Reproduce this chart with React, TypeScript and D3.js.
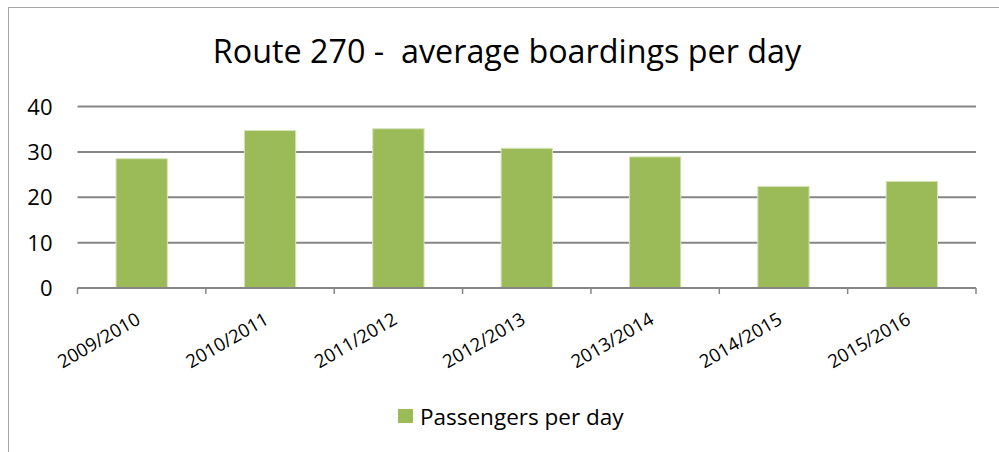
import { useEffect, useRef } from "react";
import * as d3 from "d3";

const seasons = ["2009/2010", "2010/2011", "2011/2012", "2012/2013", "2013/2014", "2014/2015", "2015/2016"];
const passengersPerDay = [28.5, 34.7, 35.1, 30.8, 28.9, 22.4, 23.5];
const yTicks = [0, 10, 20, 30, 40];

const W = 999;
const H = 452;
const FONT = "'Open Sans', sans-serif";

export default function App() {
  const svgRef = useRef<SVGSVGElement>(null);

  useEffect(() => {
    if (!svgRef.current) return;
    const svg = d3.select(svgRef.current);
    svg.selectAll("*").remove();

    const m = { left: 77.5, right: 976, top: 106.5, bottom: 288 };

    // outer frame (cut off on right and bottom like the source)
    svg.append("rect")
      .attr("x", 8.5).attr("y", 7.5)
      .attr("width", W + 20).attr("height", H + 20)
      .attr("fill", "#fff").attr("stroke", "#a6a6a6").attr("stroke-width", 1);

    const x = d3.scaleBand().domain(seasons).range([m.left, m.right]).paddingInner(0.6).paddingOuter(0.3);
    const xOuter = d3.scaleBand().domain(seasons).range([m.left, m.right]);
    const y = d3.scaleLinear().domain([0, 40]).range([m.bottom, m.top]);

    // title
    svg.append("text")
      .attr("x", 507).attr("y", 63)
      .attr("text-anchor", "middle")
      .attr("font-family", FONT).attr("font-size", 32.3)
      .attr("fill", "#000")
      .style("white-space", "pre")
      .text("Route 270 -  average boardings per day");

    // gridlines
    svg.append("g").selectAll("line")
      .data(yTicks.filter((t) => t > 0))
      .enter().append("line")
      .attr("x1", m.left).attr("x2", m.right)
      .attr("y1", (d) => y(d)).attr("y2", (d) => y(d))
      .attr("stroke", "#868686").attr("stroke-width", 2);

    // y labels
    svg.append("g").selectAll("text")
      .data(yTicks)
      .enter().append("text")
      .attr("x", 52.5).attr("y", (d) => y(d) + 8)
      .attr("text-anchor", "end")
      .attr("font-family", FONT).attr("font-size", 22)
      .attr("fill", "#000")
      .text((d) => d);

    // bars
    svg.append("g").selectAll("rect")
      .data(passengersPerDay)
      .enter().append("rect")
      .attr("x", (_d, i) => x(seasons[i])!)
      .attr("width", x.bandwidth())
      .attr("y", (d) => y(d))
      .attr("height", (d) => y(0) - y(d))
      .attr("fill", "#9bbb59")
      .attr("stroke", "#d7e4bd").attr("stroke-width", 1);

    // x axis line
    svg.append("line")
      .attr("x1", m.left).attr("x2", m.right)
      .attr("y1", y(0)).attr("y2", y(0))
      .attr("stroke", "#868686").attr("stroke-width", 2);

    // tick marks at category boundaries
    const bounds = seasons.map((s) => xOuter(s)!).concat([m.right]);
    svg.append("g").selectAll("line")
      .data(bounds)
      .enter().append("line")
      .attr("x1", (d) => d).attr("x2", (d) => d)
      .attr("y1", y(0)).attr("y2", y(0) + 6)
      .attr("stroke", "#868686").attr("stroke-width", 1.5);

    // x labels
    svg.append("g").selectAll("text")
      .data(seasons)
      .enter().append("text")
      .attr("transform", (d) => `translate(${xOuter(d)! + xOuter.bandwidth() / 2},${y(0) + 35}) rotate(-30)`)
      .attr("text-anchor", "end")
      .attr("font-family", FONT).attr("font-size", 18.5)
      .attr("fill", "#000")
      .text((d) => d);

    // legend
    svg.append("rect")
      .attr("x", 398).attr("y", 409).attr("width", 15).attr("height", 14)
      .attr("fill", "#9bbb59");
    svg.append("text")
      .attr("x", 420).attr("y", 425)
      .attr("font-family", FONT).attr("font-size", 22.5)
      .attr("fill", "#000")
      .text("Passengers per day");
  }, []);

  return (
    <svg ref={svgRef} width={W} height={H} style={{ position: "absolute", left: 0, top: 0, display: "block" }} />
  );
}
